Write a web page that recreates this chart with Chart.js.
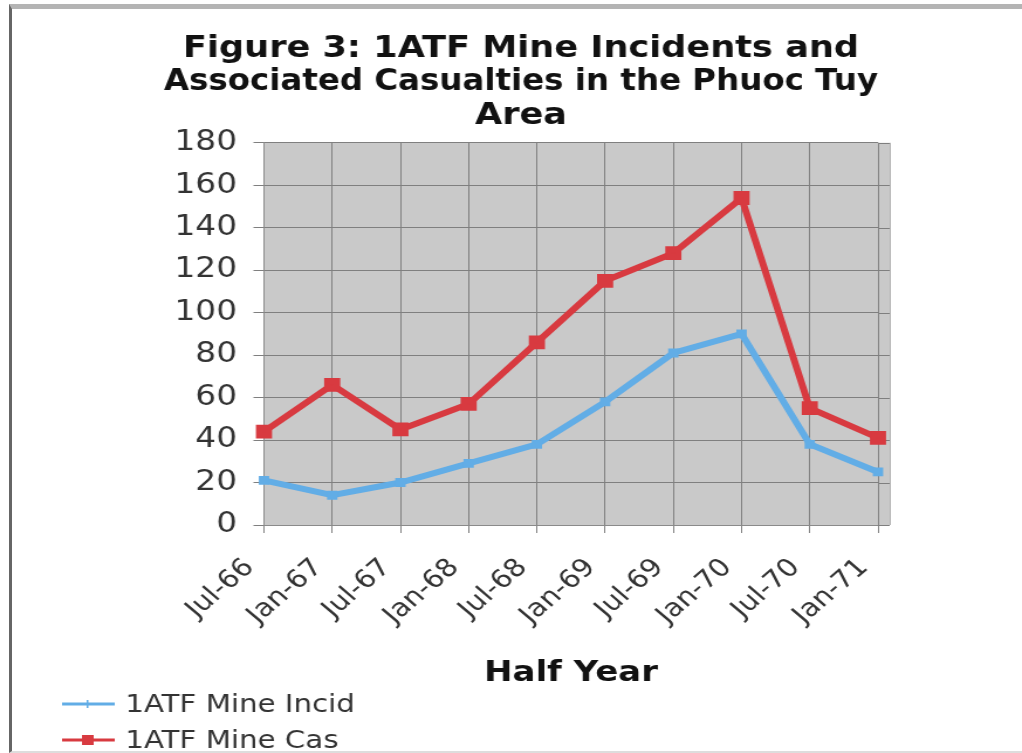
<!DOCTYPE html>
<html lang="en">
<head>
    <meta charset="UTF-8">
    <title>1ATF Mine Incidents</title>
    <script src="https://cdn.jsdelivr.net/npm/chart.js"></script>
    <style>
        html, body {
            margin: 0;
            width: 1022px;
            height: 753px;
            background: #ffffff;
            overflow: hidden;
        }
        #page {
            position: relative;
            width: 1022px;
            height: 753px;
            overflow: hidden;
        }
        #frame {
            position: absolute;
            left: 9px;
            top: 4px;
            width: 1013px;
            height: 749px;
            box-sizing: border-box;
            border-top: 5px solid #b4b4b4;
            border-left: 3px solid #666;
            border-bottom: 2px solid #dddddd;
            pointer-events: none;
        }
        #right-strip {
            position: absolute;
            left: 1004px;
            top: 9px;
            width: 18px;
            height: 740px;
            background: #ffffff;
        }
        /* the original figure is a horizontally stretched Excel chart,
           so the chart is drawn narrower and stretched back out */
        #mineChart {
            position: absolute;
            left: 0;
            top: 0;
            display: block;
            transform: scaleX(1.17067);
            transform-origin: 0 0;
        }
    </style>
</head>
<body>

    <div id="page">
        <canvas id="mineChart" width="873" height="753"></canvas>
        <div id="right-strip"></div>
        <div id="frame"></div>
    </div>

    <script>
        // data
        const halfYears = ['Jul-66', 'Jan-67', 'Jul-67', 'Jan-68', 'Jul-68', 'Jan-69', 'Jul-69', 'Jan-70', 'Jul-70', 'Jan-71'];
        const mineIncidents = [21, 14, 20, 29, 38, 58, 81, 90, 38, 25];
        const mineCasualties = [44, 66, 45, 57, 86, 115, 128, 154, 55, 41];
        const seriesNames = ['1ATF Mine Incid', '1ATF Mine Cas'];
        const titleLines = ['Figure 3: 1ATF Mine Incidents and', 'Associated Casualties in the Phuoc Tuy', 'Area'];
        const yMin = 0, yMax = 180, yStep = 20;

        const FONT = "'DejaVu Sans', Verdana, sans-serif";
        const GRID = '#7f7f7f';

        // grey plot area, a little wider than the last category
        const plotBackground = {
            id: 'plotBackground',
            beforeDraw(chart) {
                const { ctx, chartArea } = chart;
                ctx.save();
                ctx.fillStyle = '#c9c9c9';
                ctx.fillRect(chartArea.left, chartArea.top, chartArea.right - chartArea.left + 10, chartArea.bottom - chartArea.top);
                ctx.restore();
            },
            beforeDatasetsDraw(chart) {
                // carry the horizontal grid into the extra strip on the right
                const { ctx, chartArea, scales } = chart;
                ctx.save();
                ctx.strokeStyle = GRID;
                ctx.lineWidth = 1;
                scales.y.ticks.forEach(t => {
                    const y = Math.round(scales.y.getPixelForValue(t.value)) + 0.5;
                    ctx.beginPath();
                    ctx.moveTo(chartArea.right, y);
                    ctx.lineTo(chartArea.right + 10, y);
                    ctx.stroke();
                });
                ctx.strokeStyle = '#b5b5b5';
                ctx.beginPath();
                ctx.moveTo(chartArea.right + 10.5, chartArea.top);
                ctx.lineTo(chartArea.right + 10.5, chartArea.bottom);
                ctx.stroke();
                ctx.restore();
            }
        };

        // legend stacked at the bottom left, like the original
        const stackedLegend = {
            id: 'stackedLegend',
            afterDraw(chart) {
                const ctx = chart.ctx;
                ctx.save();
                ctx.font = `25px ${FONT}`;
                ctx.textBaseline = 'middle';
                chart.data.datasets.forEach((ds, i) => {
                    const y = 704 + i * 36;
                    ctx.strokeStyle = ds.borderColor;
                    ctx.lineWidth = 3;
                    ctx.beginPath();
                    ctx.moveTo(53, y);
                    ctx.lineTo(98, y);
                    ctx.stroke();
                    ctx.fillStyle = ds.borderColor;
                    if (i === 1) {
                        ctx.fillRect(70, y - 5, 10, 10);
                    } else {
                        ctx.fillRect(74, y - 4, 1.5, 8);
                    }
                    ctx.fillStyle = '#333';
                    ctx.fillText(ds.label, 107, y + 1);
                });
                ctx.restore();
            }
        };

        const ctx = document.getElementById('mineChart').getContext('2d');

        const mineChart = new Chart(ctx, {
            type: 'line',
            data: {
                labels: halfYears,
                datasets: [
                    {
                        label: seriesNames[0],
                        data: mineIncidents,
                        borderColor: '#62ade6',
                        backgroundColor: '#62ade6',
                        borderWidth: 6,
                        pointStyle: 'rect',
                        pointRadius: 2,
                        tension: 0,
                        fill: false
                    },
                    {
                        label: seriesNames[1],
                        data: mineCasualties,
                        borderColor: '#d83a40',
                        backgroundColor: '#d83a40',
                        borderWidth: 6,
                        pointStyle: 'rect',
                        pointRadius: 5.5,
                        tension: 0,
                        fill: false
                    }
                ]
            },
            options: {
                responsive: false,
                animation: false,
                devicePixelRatio: 1,
                layout: {
                    // left/right padding also centres the title where the original has it
                    padding: { left: 140, right: 123, top: 0, bottom: 62 }
                },
                plugins: {
                    legend: { display: false },
                    tooltip: { enabled: false },
                    title: {
                        display: true,
                        text: titleLines,
                        color: '#111',
                        font: { family: FONT, size: 30, weight: 'bold', lineHeight: 1.12 },
                        padding: { top: 32, bottom: 10 }
                    }
                },
                scales: {
                    x: {
                        offset: false,
                        grid: {
                            color: GRID,
                            lineWidth: 1,
                            drawTicks: true,
                            tickLength: 8
                        },
                        border: { color: '#8a8a8a' },
                        ticks: {
                            color: '#333',
                            font: { family: FONT, size: 25 },
                            maxRotation: 45,
                            minRotation: 45,
                            padding: 20,
                            labelOffset: -12,
                            autoSkip: false
                        },
                        title: {
                            display: true,
                            text: 'Half Year',
                            color: '#111',
                            font: { family: FONT, size: 29, weight: 'bold' },
                            padding: { top: 0, bottom: 0 }
                        },
                        afterFit(scale) {
                            scale.height = 753 - 525 - 62;
                        }
                    },
                    y: {
                        min: yMin,
                        max: yMax,
                        grid: {
                            color: GRID,
                            lineWidth: 1,
                            tickLength: 9
                        },
                        border: { color: '#8a8a8a' },
                        ticks: {
                            stepSize: yStep,
                            color: '#333',
                            font: { family: FONT, size: 28 },
                            padding: 14
                        },
                        afterFit(scale) {
                            scale.width = 85.5;
                        }
                    }
                }
            },
            plugins: [plotBackground, stackedLegend]
        });
    </script>

</body>
</html>
